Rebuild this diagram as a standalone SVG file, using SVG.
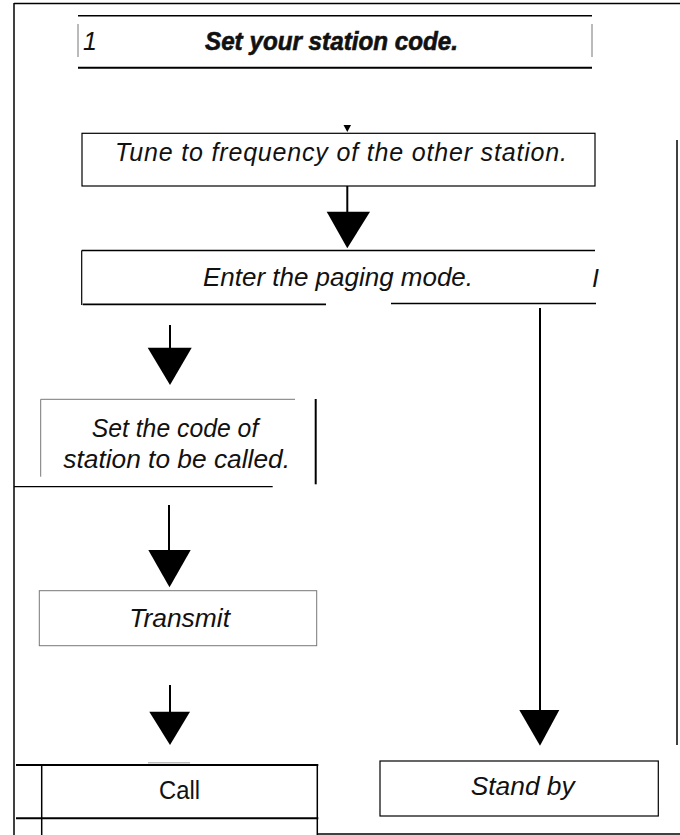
<svg xmlns="http://www.w3.org/2000/svg" width="680" height="835" viewBox="0 0 680 835">
<style>
.t{font-family:"Liberation Sans",Arial,Helvetica,sans-serif;font-style:italic;font-size:25px;fill:#111}
.r{font-style:normal}
.b{font-weight:bold;stroke:#111;stroke-width:0.6}
.k{stroke:#000;fill:none}
.g{stroke:#777;fill:none;stroke-width:1}
.c{stroke:#000;stroke-width:2;fill:none}
.h{fill:#000;stroke:none}
</style>
<rect width="680" height="835" fill="#fff"/>
<g id="frame">
<line class="k" x1="14" y1="3.5" x2="680" y2="3.5" stroke-width="1.5"/>
<line class="k" x1="14" y1="3" x2="14" y2="835" stroke-width="1.5"/>
<line class="k" x1="677" y1="140" x2="677" y2="745" stroke-width="1.5"/>
<line class="k" x1="318" y1="834" x2="680" y2="834" stroke-width="1.5"/>
</g>
<g id="node-set-station-code">
<line class="k" x1="78" y1="15.7" x2="592" y2="15.7" stroke-width="1.5"/>
<line class="k" x1="78" y1="67.7" x2="592" y2="67.7" stroke-width="2"/>
<line class="g" x1="78" y1="24" x2="78" y2="57"/>
<line class="g" x1="592" y1="24" x2="592" y2="57"/>
<text class="t" x="83" y="50" font-size="23">1</text>
<text class="t b" x="205" y="50" textLength="253" lengthAdjust="spacingAndGlyphs">Set your station code.</text>
</g>
<g id="node-tune">
<rect class="k" x="82" y="133.3" width="513" height="52.7" stroke-width="1.2"/>
<text class="t" x="115" y="160.7" textLength="452" lengthAdjust="spacing">Tune to frequency of the other station.</text>
</g>
<g id="node-enter-paging">
<line class="k" x1="81.7" y1="250.5" x2="595" y2="250.5" stroke-width="1.3"/>
<line class="k" x1="81.7" y1="250.5" x2="81.7" y2="305" stroke-width="1.2"/>
<line class="k" x1="82.7" y1="304.3" x2="326" y2="304.3" stroke-width="1.8"/>
<line class="k" x1="391" y1="303.5" x2="596" y2="303.5" stroke-width="1.3"/>
<text class="t" x="203" y="285.7" font-size="26" textLength="270" lengthAdjust="spacingAndGlyphs">Enter the paging mode.</text>
<text class="t" x="592" y="287" font-size="26">I</text>
</g>
<g id="node-set-code-called">
<line class="g" x1="40.7" y1="399.3" x2="295" y2="399.3"/>
<line class="g" x1="40.7" y1="399.3" x2="40.7" y2="476.7"/>
<line class="k" x1="315.7" y1="399" x2="315.7" y2="484.3" stroke-width="2"/>
<line class="k" x1="14" y1="486.7" x2="272.7" y2="486.7" stroke-width="1.3"/>
<text class="t" x="91.7" y="436.7" textLength="166.6" lengthAdjust="spacingAndGlyphs">Set the code of</text>
<text class="t" x="63.3" y="468.3" textLength="226.7" lengthAdjust="spacingAndGlyphs">station to be called.</text>
</g>
<g id="node-transmit">
<rect class="g" x="39.3" y="590.7" width="277.4" height="55"/>
<text class="t" x="129.3" y="627.3" textLength="100.7" lengthAdjust="spacingAndGlyphs">Transmit</text>
</g>
<g id="node-call">
<line x1="148" y1="762.7" x2="190" y2="762.7" stroke="#bbb" stroke-width="1.5"/>
<line class="k" x1="16" y1="765" x2="318.3" y2="765" stroke-width="2"/>
<line class="k" x1="16" y1="818.3" x2="318.3" y2="818.3" stroke-width="2"/>
<line class="k" x1="41.7" y1="765" x2="41.7" y2="835" stroke-width="1.5"/>
<line class="k" x1="317.3" y1="765" x2="317.3" y2="835" stroke-width="1.5"/>
<text class="t r" x="159" y="799" textLength="41" lengthAdjust="spacingAndGlyphs">Call</text>
</g>
<g id="node-stand-by">
<rect class="k" x="380" y="761" width="278.3" height="55" stroke-width="1.2"/>
<text class="t" x="470.7" y="795" textLength="104" lengthAdjust="spacingAndGlyphs">Stand by</text>
</g>
<g id="connectors">
<polygon class="h" points="343.5,125 351,125 347.3,132"/>
<line class="c" x1="347.3" y1="186" x2="347.3" y2="212"/>
<polygon class="h" points="326.7,211.7 370,211.7 347.3,248.3"/>
<line class="c" x1="170" y1="325" x2="170" y2="348"/>
<polygon class="h" points="147.7,347.7 191.7,347.7 170,385"/>
<line class="c" x1="169" y1="505" x2="169" y2="550.5"/>
<polygon class="h" points="148.3,550 190.7,550 169.5,587.3"/>
<line class="c" x1="170" y1="685" x2="170" y2="712"/>
<polygon class="h" points="149.3,711.7 190,711.7 170,745"/>
<line class="c" x1="540" y1="308" x2="540" y2="710.5"/>
<polygon class="h" points="519.3,710 559.3,710 540,745.7"/>
</g>
</svg>
